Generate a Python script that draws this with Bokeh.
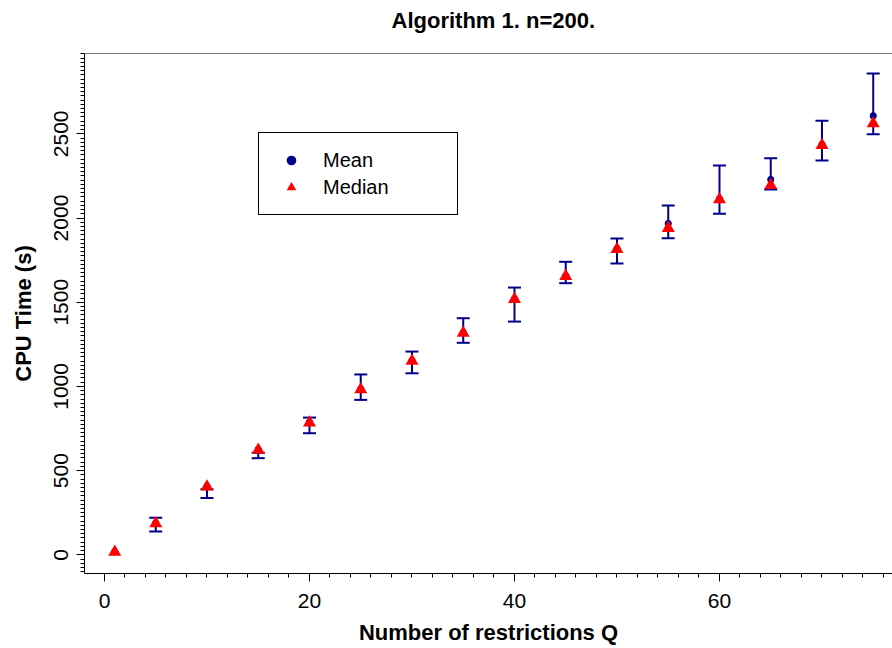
import math
from bokeh.plotting import figure
from bokeh.models import (ColumnDataSource, Whisker, TeeHead, Legend, LegendItem,
                          FixedTicker, Span, Range1d, Title)
from bokeh.embed import file_html
from bokeh.resources import INLINE

# ---------------- data ----------------
Q = [1, 5, 10, 15, 20, 25, 30, 35, 40, 45, 50, 55, 60, 65, 70, 75]
mean_time = [18, 189, 407, 625, 787, 984, 1154, 1320, 1520, 1657, 1817, 1968, 2114, 2229, 2436, 2607]
median_time = [17, 186, 404, 622, 784, 981, 1151, 1317, 1517, 1654, 1814, 1940, 2110, 2194, 2432, 2561]
lower_time = [17, 138, 338, 574, 722, 920, 1078, 1259, 1385, 1613, 1730, 1880, 2025, 2169, 2341, 2498]
upper_time = [17, 220, 390, 606, 815, 1071, 1207, 1405, 1587, 1740, 1878, 2075, 2312, 2355, 2577, 2858]

x_ticks = [0, 20, 40, 60]
y_ticks = [0, 500, 1000, 1500, 2000, 2500]
x_minor = list(range(0, 77, 2))
y_minor = list(range(-100, 2976, 25))

title_text = "Algorithm 1. n=200."
x_label = "Number of restrictions Q"
y_label = "CPU Time (s)"
legend_labels = ["Mean", "Median"]

FONT = "Liberation Sans"
BLUE = "#00008B"
RED = "#FF0000"

p = figure(width=892, height=648, output_backend="svg", toolbar_location=None,
           title=None,
           x_range=Range1d(-1.95, 76.88), y_range=Range1d(-111, 2977),
           min_border_left=84, min_border_right=0, min_border_top=53, min_border_bottom=75,
           background_fill_color="white", border_fill_color="white",
           outline_line_color=None)
p.xgrid.visible = False
p.ygrid.visible = False

# spacer panel next to the frame, then the real title further out
p.add_layout(Title(text=" ", text_font_size="1px", standoff=8), "above")
p.add_layout(Title(text=title_text, align="left", offset=307, vertical_align="top",
                   text_font=FONT, text_font_size="22px", text_font_style="bold",
                   text_color="black", standoff=15), "above")

# error bars
idx = [i for i in range(len(Q)) if upper_time[i] > lower_time[i]]
bars = ColumnDataSource(dict(x=[Q[i] for i in idx],
                             lower=[lower_time[i] for i in idx],
                             upper=[upper_time[i] for i in idx]))
w = Whisker(base="x", lower="lower", upper="upper", source=bars,
            line_color=BLUE, line_width=2, level="underlay",
            upper_head=TeeHead(size=13, line_color=BLUE, line_width=2),
            lower_head=TeeHead(size=13, line_color=BLUE, line_width=2))
p.add_layout(w)

src = ColumnDataSource(dict(q=Q, mean=mean_time, median=median_time))
r_mean = p.scatter("q", "mean", source=src, marker="circle", size=7,
                   fill_color=BLUE, line_color=None)
r_med = p.scatter("q", "median", source=src, marker="triangle", size=13,
                  fill_color=RED, line_color=None)

legend = Legend(items=[LegendItem(label=legend_labels[0], renderers=[r_mean]),
                       LegendItem(label=legend_labels[1], renderers=[r_med])],
                location=(174, 358), orientation="vertical",
                border_line_color="black", border_line_width=1, border_line_alpha=1,
                background_fill_color="white", background_fill_alpha=1,
                padding=15, spacing=3, margin=0,
                glyph_width=34, glyph_height=24, label_height=24, label_width=119,
                label_standoff=15, label_text_font=FONT, label_text_font_size="20px",
                label_text_color="black")
p.add_layout(legend)

# top frame line
p.add_layout(Span(location=2977, dimension="width", line_color="black", line_width=1))

xa = p.xaxis[0]
ya = p.yaxis[0]
xa.ticker = FixedTicker(ticks=x_ticks, minor_ticks=x_minor)
ya.ticker = FixedTicker(ticks=y_ticks, minor_ticks=y_minor)
xa.axis_label = x_label
ya.axis_label = y_label
for ax in (xa, ya):
    ax.axis_line_color = "black"
    ax.axis_line_width = 1
    ax.major_tick_line_color = "black"
    ax.major_tick_out = 8
    ax.major_tick_in = 0
    ax.minor_tick_line_color = "black"
    ax.minor_tick_out = 4
    ax.minor_tick_in = 0
    ax.major_label_text_font = FONT
    ax.major_label_text_font_size = "21px"
    ax.major_label_text_color = "black"
    ax.axis_label_text_font = FONT
    ax.axis_label_text_font_size = "22px"
    ax.axis_label_text_font_style = "bold"
    ax.axis_label_text_color = "black"
xa.major_label_standoff = 12
xa.axis_label_standoff = 9
ya.major_label_standoff = 8
ya.axis_label_standoff = 16
ya.major_label_orientation = "parallel"

open("out.html", "w").write(file_html(p, INLINE))
